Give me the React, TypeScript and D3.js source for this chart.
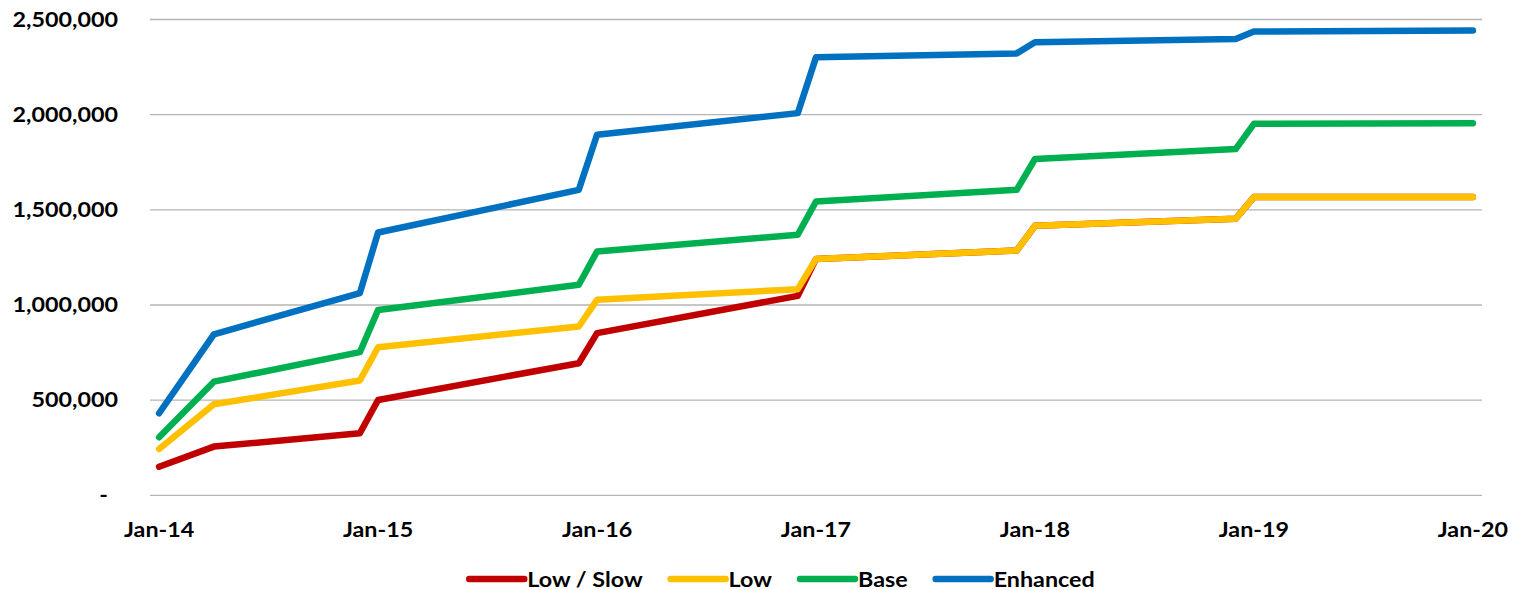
import React, { useEffect, useRef } from 'react'
import * as d3 from 'd3'

// kink points of each series (straight segments in between)
const months = ['Jan-14', 'Apr-14', 'Dec-14', 'Jan-15', 'Dec-15', 'Jan-16', 'Dec-16', 'Jan-17', 'Dec-17', 'Jan-18', 'Dec-18', 'Jan-19', 'Jan-20']
const lowSlow = [150000, 256000, 326000, 501000, 694000, 852000, 1048000, 1242000, 1286000, 1416000, 1453000, 1567000, 1567000]
const low = [243000, 478000, 603000, 778000, 887000, 1027000, 1083000, 1242000, 1286000, 1416000, 1453000, 1567000, 1567000]
const base = [305000, 597000, 752000, 974000, 1106000, 1281000, 1369000, 1544000, 1605000, 1767000, 1819000, 1952000, 1955000]
const enhanced = [431000, 846000, 1062000, 1381000, 1605000, 1894000, 2008000, 2301000, 2322000, 2380000, 2397000, 2437000, 2442000]

const seriesNames = ['Low / Slow', 'Low', 'Base', 'Enhanced']
const seriesColors = ['#C00000', '#FFC000', '#00B050', '#0070C0']
const xTickLabels = ['Jan-14', 'Jan-15', 'Jan-16', 'Jan-17', 'Jan-18', 'Jan-19', 'Jan-20']
const yTickValues = [0, 500000, 1000000, 1500000, 2000000, 2500000]

const W = 1516
const H = 590
const FONT = 'Lato, "Open Sans", sans-serif'
const FS = 21
const SX = 1.11

const parseMonth = d3.timeParse('%b-%y')
const firstMonth = parseMonth('Jan-14') as Date
const monthIndex = (m: string) => d3.timeMonth.count(firstMonth, parseMonth(m) as Date)

export default function App() {
    const ref = useRef<SVGSVGElement>(null)

    useEffect(() => {
        document.body.style.margin = '0'
        const svg = d3.select(ref.current)
        svg.selectAll('*').remove()

        const plot = { left: 150, right: 1482, top: 19.5, bottom: 495.3 }
        const nMonths = monthIndex('Jan-20') + 1

        const x = d3.scaleLinear().domain([-0.5, nMonths - 0.5]).range([plot.left, plot.right])
        const y = d3.scaleLinear().domain([0, 2500000]).range([plot.bottom, plot.top])

        const addText = (g: any, tx: number, ty: number, label: string, anchor: string) =>
            g.append('text')
                .attr('transform', `translate(${tx},${ty}) scale(${SX},1)`)
                .attr('text-anchor', anchor)
                .attr('font-family', FONT)
                .attr('font-weight', 'bold')
                .attr('font-size', FS)
                .attr('fill', '#000')
                .text(label)

        // gridlines
        svg.append('g').selectAll('line').data(yTickValues).enter().append('line')
            .attr('x1', plot.left).attr('x2', plot.right)
            .attr('y1', d => y(d)).attr('y2', d => y(d))
            .attr('stroke', '#B5B5B5').attr('stroke-width', 1.3)

        // y labels
        const fmt = d3.format(',')
        const yAxis = svg.append('g')
        yTickValues.forEach(v => {
            if (v === 0) addText(yAxis, 108, y(v) + 7, '-', 'end')
            else addText(yAxis, 118, y(v) + 7, fmt(v), 'end')
        })

        // x labels
        const xAxis = svg.append('g')
        xTickLabels.forEach(m => addText(xAxis, x(monthIndex(m)), 537, m, 'middle'))

        // lines
        const allSeries = [lowSlow, low, base, enhanced]
        const lineGen = d3.line<number>()
            .x((d, i) => x(monthIndex(months[i])))
            .y(d => y(d))
        allSeries.forEach((s, i) => {
            svg.append('path')
                .datum(s)
                .attr('fill', 'none')
                .attr('stroke', seriesColors[i])
                .attr('stroke-width', 6.5)
                .attr('stroke-linecap', 'round')
                .attr('stroke-linejoin', 'round')
                .attr('d', lineGen)
        })

        // legend
        const legend = svg.append('g')
        const sampleLen = 55
        const gap = 3
        const itemGap = 28
        const items = seriesNames.map((name, i) => {
            const g = legend.append('g')
            g.append('line')
                .attr('x1', 0).attr('x2', sampleLen)
                .attr('y1', 0).attr('y2', 0)
                .attr('stroke', seriesColors[i])
                .attr('stroke-width', 6.5)
                .attr('stroke-linecap', 'round')
            const t = addText(g, sampleLen + gap, 7.5, name, 'start')
            const w = (t.node() as SVGTextElement).getComputedTextLength() * SX
            return { g, w: sampleLen + gap + w }
        })
        const total = d3.sum(items, d => d.w) + itemGap * (items.length - 1)
        let cx = 782 - total / 2
        items.forEach(it => {
            it.g.attr('transform', `translate(${cx},579)`)
            cx += it.w + itemGap
        })
    }, [])

    return <svg ref={ref} width={W} height={H} style={{ display: 'block', background: '#fff' }} />
}
